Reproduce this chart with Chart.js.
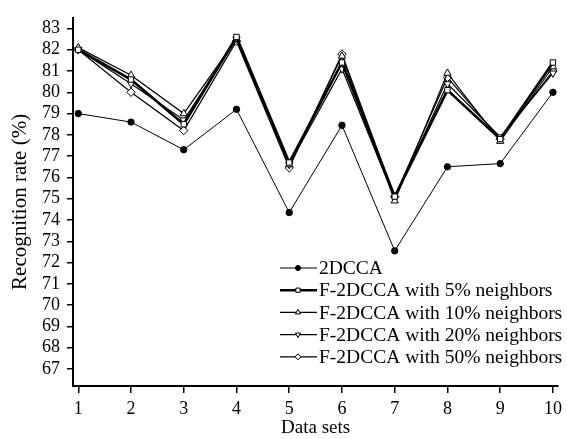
<!DOCTYPE html>
<html>
<head>
<meta charset="utf-8">
<script src="https://cdn.jsdelivr.net/npm/chart.js@4.4.1/dist/chart.umd.min.js"></script>
<style>
  html, body { margin: 0; padding: 0; background: #fff; }
  #wrap { width: 567px; height: 439px; }
</style>
</head>
<body>
<div id="wrap"><canvas id="chart"></canvas></div>
<script>
// data
const dataSets = [1, 2, 3, 4, 5, 6, 7, 8, 9, 10];
const yTicks = [67, 68, 69, 70, 71, 72, 73, 74, 75, 76, 77, 78, 79, 80, 81, 82, 83];

const rate2DCCA = [79.0, 78.6, 77.3, 79.2, 74.35, 78.45, 72.55, 76.5, 76.65, 80.0];
const rateF5 = [82.0, 80.6, 78.5, 82.6, 76.7, 81.4, 75.1, 80.1, 77.8, 81.4];
const rateF10 = [82.1, 80.8, 79.0, 82.5, 76.6, 81.7, 74.9, 80.9, 77.7, 81.2];
const rateF20 = [82.0, 80.4, 78.7, 82.5, 76.6, 81.1, 75.0, 80.4, 77.9, 80.9];
const rateF50 = [82.0, 80.0, 78.2, 82.4, 76.45, 81.8, 75.1, 80.7, 77.8, 81.0];

const seriesNames = [
    '2DCCA',
    'F-2DCCA with 5% neighbors',
    'F-2DCCA with 10% neighbors',
    'F-2DCCA with 20% neighbors',
    'F-2DCCA with 50% neighbors'
];

const FONT = 'Liberation Serif';

function toPoints(vals) {
    return dataSets.map((x, i) => ({ x: x, y: vals[i] }));
}

function makeSet(label, vals, style) {
    return Object.assign({
        label: label,
        data: toPoints(vals),
        borderColor: '#000',
        backgroundColor: '#fff',
        pointBorderColor: '#000',
        pointBorderWidth: 1,
        borderWidth: 1.2,
        pointRadius: 3.5,
        tension: 0
    }, style);
}

const datasets = [
    makeSet(seriesNames[0], rate2DCCA, { pointStyle: 'circle', backgroundColor: '#000', pointRadius: 3.2, borderWidth: 1 }),
    makeSet(seriesNames[1], rateF5, { pointStyle: 'rect', borderWidth: 2.6, pointRadius: 3.8 }),
    makeSet(seriesNames[2], rateF10, { pointStyle: 'triangle', pointRadius: 4.2 }),
    makeSet(seriesNames[3], rateF20, { pointStyle: 'triangle', rotation: 180, pointRadius: 4.2 }),
    makeSet(seriesNames[4], rateF50, { pointStyle: 'rectRot', pointRadius: 4.2 })
];

// legend drawn inside the plot, bottom right
const innerLegend = {
    id: 'innerLegend',
    afterDatasetsDraw(chart) {
        const ctx = chart.ctx;
        const x0 = 280, y0 = 268, step = 22.2;
        ctx.save();
        ctx.font = '19.5px "' + FONT + '"';
        ctx.textBaseline = 'middle';
        ctx.fillStyle = '#000';
        chart.data.datasets.forEach((ds, i) => {
            const y = y0 + i * step;
            ctx.strokeStyle = '#000';
            ctx.lineWidth = i === 1 ? 2.4 : 1.2;
            ctx.beginPath();
            ctx.moveTo(x0, y);
            ctx.lineTo(x0 + 37, y);
            ctx.stroke();
            ctx.lineWidth = 1;
            Chart.helpers.drawPoint(ctx, {
                pointStyle: ds.pointStyle,
                rotation: ds.rotation || 0,
                radius: i === 0 ? 2.5 : 3
            }, x0 + 18, y);
            ctx.fillStyle = i === 0 ? '#000' : '#fff';
            ctx.fill();
            ctx.stroke();
            ctx.fillStyle = '#000';
            ctx.fillText(ds.label, x0 + 39, y + 1);
        });
        ctx.restore();
    }
};

new Chart(document.getElementById('chart').getContext('2d'), {
    type: 'line',
    data: { datasets: datasets },
    options: {
        responsive: true,
        maintainAspectRatio: false,
        animation: false,
        layout: { padding: { top: 12, right: 5, left: 0, bottom: 0 } },
        plugins: {
            legend: { display: false },
            tooltip: { enabled: false }
        },
        scales: {
            x: {
                type: 'linear',
                min: 0.9,
                max: 10.1,
                afterBuildTicks: (scale) => { scale.ticks = dataSets.map(v => ({ value: v })); },
                afterFit: (scale) => { scale.height = 53; },
                grid: { drawOnChartArea: false, drawTicks: true, tickLength: 7, color: '#000', lineWidth: 1.5 },
                border: { display: true, color: '#000', width: 2 },
                ticks: { color: '#000', font: { family: FONT, size: 18 }, padding: 5, maxRotation: 0, autoSkip: false },
                title: { display: true, text: 'Data sets', color: '#000', font: { family: FONT, size: 19 }, padding: { top: 4, bottom: 0 } }
            },
            y: {
                min: 66.2,
                max: 83.5,
                afterBuildTicks: (scale) => { scale.ticks = yTicks.map(v => ({ value: v })); },
                afterFit: (scale) => { scale.width = 73; },
                grid: { drawOnChartArea: false, drawTicks: true, tickLength: 6, color: '#000', lineWidth: 1.5 },
                border: { display: true, color: '#000', width: 2 },
                ticks: { color: '#000', font: { family: FONT, size: 18 }, padding: 7, autoSkip: false },
                title: { display: true, text: 'Recognition rate (%)', color: '#000', font: { family: FONT, size: 21 }, padding: { top: 8, bottom: 0 } }
            }
        }
    },
    plugins: [innerLegend]
});
</script>
</body>
</html>
